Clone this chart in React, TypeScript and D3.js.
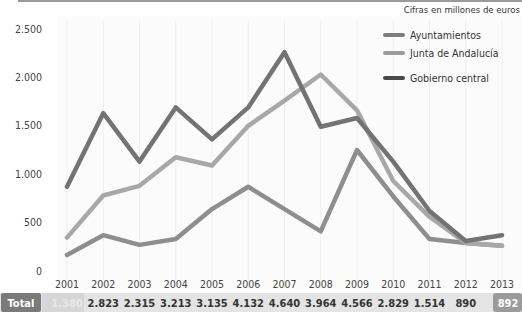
import React, { useEffect } from 'react'
import * as d3 from 'd3'

// cifras en millones de euros
const years = [2001, 2002, 2003, 2004, 2005, 2006, 2007, 2008, 2009, 2010, 2011, 2012, 2013]
const ayuntamientos = [165, 370, 270, 330, 640, 870, 640, 410, 1250, 770, 330, 290, 262]
const junta = [345, 780, 880, 1175, 1090, 1500, 1760, 2030, 1660, 930, 560, 290, 260]
const gobierno = [870, 1630, 1130, 1690, 1360, 1690, 2260, 1490, 1580, 1130, 620, 310, 370]
const totals = ['1.380', '2.823', '2.315', '3.213', '3.135', '4.132', '4.640', '3.964', '4.566', '2.829', '1.514', '890', '892']
const yTicks = [0, 500, 1000, 1500, 2000, 2500]

const series = [
  { name: 'Ayuntamientos', values: ayuntamientos, color: '#8e8e8e', swatch: '#7d7d7d' },
  { name: 'Junta de Andalucía', values: junta, color: '#a8a8a8', swatch: '#9c9c9c' },
  { name: 'Gobierno central', values: gobierno, color: '#737373', swatch: '#4a4a4a' },
]

const W = 522
const H = 316
const font = "'DejaVu Sans Condensed', 'DejaVu Sans', sans-serif"
const fmt = (v: number) => (v >= 1000 ? d3.format(',')(v).replace(',', '.') : String(v))

export default function App() {
  useEffect(() => {
    document.body.style.margin = '0'
  }, [])

  const x = d3.scaleLinear().domain([2001, 2013]).range([67, 502])
  const y = d3.scaleLinear().domain([0, 2500]).range([271, 29])
  const line = d3.line<number>()
    .x((d, i) => x(years[i]))
    .y((d) => y(d))

  const legendY = [35, 53, 78]

  return (
    <svg width={W} height={H} style={{ display: 'block', background: '#fff' }}>
      {/* franja superior */}
      <rect x={18} y={0} width={W - 18} height={2} fill='#9a9a9a' />
      {/* fondo del grafico */}
      <rect x={58} y={16} width={W - 58} height={274} fill='#fbfbfb' />
      {years.map((yr) => (
        <line key={yr} x1={x(yr)} x2={x(yr)} y1={20} y2={288} stroke='#efefef' strokeWidth={1} />
      ))}
      {/* eje y */}
      {yTicks.map((t) => (
        <text key={t} x={42} y={y(t)} dy='0.35em' textAnchor='end'
          fontFamily={font} fontSize={10.5} fill='#444'>{fmt(t)}</text>
      ))}
      {/* eje x */}
      {years.map((yr) => (
        <text key={yr} x={x(yr)} y={288} textAnchor='middle'
          fontFamily={font} fontSize={10.5} fill='#444'>{yr}</text>
      ))}
      {/* lineas */}
      {series.map((s) => (
        <path key={s.name} d={line(s.values) || ''} fill='none' stroke={s.color}
          strokeWidth={4.5} strokeLinejoin='round' strokeLinecap='round' />
      ))}
      {/* leyenda */}
      <text x={520} y={13} textAnchor='end' fontFamily={font} fontSize={9.5} fill='#333'>
        Cifras en millones de euros
      </text>
      {series.map((s, i) => (
        <g key={s.name}>
          <line x1={385} x2={403} y1={legendY[i]} y2={legendY[i]} stroke={s.swatch}
            strokeWidth={4} strokeLinecap='round' />
          <text x={410} y={legendY[i]} dy='0.35em' fontFamily={font} fontSize={10.5} fill='#333'>
            {s.name}
          </text>
        </g>
      ))}
      {/* fila de totales */}
      <rect x={0} y={293} width={W} height={19} fill='#e4e4e4' />
      <rect x={42} y={293} width={42} height={19} fill='#d6d6d6' />
      <rect x={1} y={293} width={40} height={19} rx={2} fill='#7a7a7a' />
      <text x={21} y={303} dy='0.35em' textAnchor='middle' fontFamily={font} fontSize={11}
        fontWeight='bold' fill='#fff'>Total</text>
      {totals.map((t, i) => {
        const last = i === totals.length - 1
        const first = i === 0
        return (
          <g key={years[i]}>
            {last && <rect x={493} y={293} width={29} height={19} rx={3} fill='#9b9b9b' />}
            <text x={last ? 508 : x(years[i])} y={303} dy='0.35em' textAnchor='middle'
              fontFamily={font} fontSize={11} fontWeight='bold'
              fill={last ? '#fff' : first ? '#e8e8e8' : '#333'}>{t}</text>
          </g>
        )
      })}
    </svg>
  )
}
